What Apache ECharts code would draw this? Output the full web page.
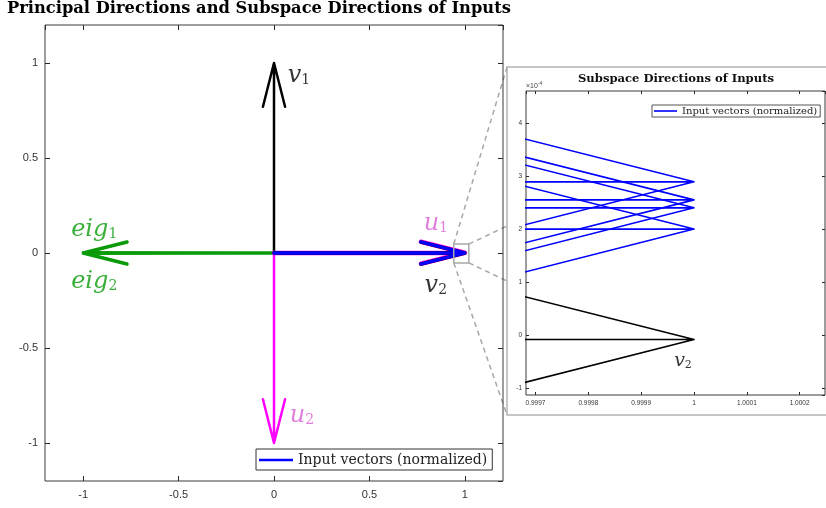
<!DOCTYPE html>
<html><head><meta charset="utf-8">
<script src="https://cdn.jsdelivr.net/npm/echarts@6/dist/echarts.min.js"></script>
<style>html,body{margin:0;padding:0;background:#fff}#c{width:826px;height:508px}</style>
</head><body><div id="c"></div>
<script>
// ---------------- data ----------------
const INPUT = 'Input vectors (normalized)';
const mainRange = [-1.2, 1.2];
const insetXRange = [0.999682, 1.000248];
const insetYRange = [-1.124e-4, 4.60e-4];
const inputTipX = [1, 1, 1, 1];
const inputTipY = [2.89e-4, 2.55e-4, 2.40e-4, 2.00e-4];
const v1Tip = [0, 1];
const v2Tip = [1, -0.08e-4];
const u1Tip = [1, 0.0015];
const u2Tip = [0, -1];
const eig1Tip = [-1, 0.002];
const eig2Tip = [-1, -0.002];
const zoomBoxX = [0.942, 1.021];
const zoomBoxY = [-0.052, 0.047];
const headLength = 0.23, headHalfWidth = 0.058;

// ---------------- helpers ----------------
function arrow(tip) {
  const tx = tip[0], ty = tip[1];
  const L = Math.hypot(tx, ty), ux = tx / L, uy = ty / L, nx = -uy, ny = ux;
  const bx = tx - headLength * L * ux, by = ty - headLength * L * uy;
  const w = headHalfWidth * L;
  return [[0, 0], [tx, ty], [bx + w * nx, by + w * ny], [tx, ty], [bx - w * nx, by - w * ny]];
}
function lineSeries(name, data, color, width, gi, z) {
  return { type: 'line', name: name, data: data, xAxisIndex: gi * 2, yAxisIndex: gi * 2,
    symbol: 'none', silent: true, animation: false, z: z, clip: true,
    lineStyle: { color: color, width: width, cap: 'round', join: 'round' }, itemStyle: { color: color } };
}
const BLUE = '#0000ff', GREEN = '#0a9a0a', MAG = '#ff00ff', PINK = '#d85fd2';
const axisText = { fontFamily: 'Liberation Sans', fontSize: 11, color: '#333' };
const insetText = { fontFamily: 'Liberation Sans', fontSize: 6.5, color: '#333' };

function mkAxis(grid, pos, min, max, main, isX) {
  const bottomOrLeft = pos === 'bottom' || pos === 'left';
  return {
    type: 'value', gridIndex: grid, position: pos, min: min, max: max, scale: true,
    axisLine: { show: false, onZero: false },
    axisTick: { show: true, inside: true, length: main ? 5 : 3, lineStyle: { color: '#262626', width: 1 } },
    splitLine: { show: false },
    axisLabel: {
      show: bottomOrLeft, showMinLabel: false, showMaxLabel: false,
      margin: main ? (isX ? 8 : 7) : (isX ? 5 : 4),
      fontFamily: (main ? axisText : insetText).fontFamily,
      fontSize: (main ? axisText : insetText).fontSize,
      color: '#333',
      formatter: main ? (v => String(parseFloat(v.toFixed(2))))
                      : (isX ? (v => String(parseFloat(v.toFixed(4)))) : (v => String(Math.round(v * 1e4))))
    }
  };
}

// label annotations (positions in data coords of the respective grid)
const mainLabels = [
  { t: 'v', s: '1', at: [0.131, 0.933], c: '#000' },
  { t: 'u', s: '1', at: [0.848, 0.156], c: PINK },
  { t: 'v', s: '2', at: [0.848, -0.170], c: '#000' },
  { t: 'eig', s: '1', at: [-0.942, 0.124], c: GREEN },
  { t: 'eig', s: '2', at: [-0.942, -0.149], c: GREEN },
  { t: 'u', s: '2', at: [0.147, -0.857], c: PINK }
];
const insetLabels = [
  { t: 'v', s: '2', at: [0.9999792, -0.484e-4], c: '#000' }
];
function labelSeries(list, gi, big) {
  return {
    type: 'scatter', xAxisIndex: gi * 2, yAxisIndex: gi * 2, symbolSize: 0, silent: true, animation: false, z: 10,
    data: list.map(l => ({ value: l.at, label: {
      show: true, position: 'inside', formatter: '{m|' + l.t + '}{s|' + l.s + '}',
      rich: {
        m: { fontFamily: 'DejaVu Serif', fontStyle: 'italic', fontSize: big ? 24 : 19, color: l.c, lineHeight: big ? 26 : 20 },
        s: { fontFamily: 'DejaVu Serif', fontSize: big ? 14 : 11, color: l.c, padding: [big ? 10 : 8, 0, 0, 0] }
      } } }))
  };
}

const chart = echarts.init(document.getElementById('c'), null, { renderer: 'canvas' });

const series = [];
// main plot
series.push(lineSeries('eig1', arrow(eig1Tip), GREEN, 3, 0, 2));
series.push(lineSeries('eig2', arrow(eig2Tip), GREEN, 3, 0, 2));
series.push(lineSeries('v1', arrow(v1Tip), '#000', 2.5, 0, 2));
series.push(lineSeries('u2', arrow(u2Tip), MAG, 2.5, 0, 2));
series.push(lineSeries('u1', arrow(u1Tip), MAG, 4.5, 0, 2));
series.push(lineSeries('v2', arrow(v2Tip), '#000', 3.5, 0, 3));
for (let i = 0; i < inputTipY.length; i++) series.push(lineSeries(INPUT, arrow([inputTipX[i], inputTipY[i]]), BLUE, 2.6, 0, 4));
series.push(lineSeries('zoomBox', [[zoomBoxX[0], zoomBoxY[0]], [zoomBoxX[1], zoomBoxY[0]], [zoomBoxX[1], zoomBoxY[1]], [zoomBoxX[0], zoomBoxY[1]], [zoomBoxX[0], zoomBoxY[0]]], '#a8a8a8', 1.5, 0, 5));
series.push(labelSeries(mainLabels, 0, true));
// inset
series.push(lineSeries('v2 ', arrow(v2Tip), '#000', 1.6, 1, 3));
for (let i = 0; i < inputTipY.length; i++) series.push(lineSeries(INPUT, arrow([inputTipX[i], inputTipY[i]]), BLUE, 1.6, 1, 4));
series.push(labelSeries(insetLabels, 1, false));

chart.setOption({
  animation: false,
  backgroundColor: '#fff',
  title: [
    { text: 'Principal Directions and Subspace Directions of Inputs', left: 7, top: 1, padding: 0,
      textStyle: { fontFamily: 'DejaVu Serif', fontWeight: 'bold', fontSize: 16.3, color: '#000' } },
    { text: 'Subspace Directions of Inputs', left: 578, top: 73, padding: 0,
      textStyle: { fontFamily: 'DejaVu Serif', fontWeight: 'bold', fontSize: 11.6, color: '#111' } }
  ],
  grid: [
    { left: 45, top: 25, width: 458, height: 456, show: true, borderColor: '#3a3a3a', borderWidth: 1, backgroundColor: 'transparent', z: 1 },
    { left: 526, top: 91, width: 299, height: 304, show: true, borderColor: '#3a3a3a', borderWidth: 1, backgroundColor: 'transparent', z: 1 }
  ],
  xAxis: [
    mkAxis(0, 'bottom', mainRange[0], mainRange[1], true, true),
    mkAxis(0, 'top', mainRange[0], mainRange[1], true, true),
    mkAxis(1, 'bottom', insetXRange[0], insetXRange[1], false, true),
    mkAxis(1, 'top', insetXRange[0], insetXRange[1], false, true)
  ],
  yAxis: [
    mkAxis(0, 'left', mainRange[0], mainRange[1], true, false),
    mkAxis(0, 'right', mainRange[0], mainRange[1], true, false),
    mkAxis(1, 'left', insetYRange[0], insetYRange[1], false, false),
    mkAxis(1, 'right', insetYRange[0], insetYRange[1], false, false)
  ],
  legend: [
    { data: [{ name: INPUT, icon: 'rect' }], left: 256, top: 449, padding: [4, 5, 3, 3], itemWidth: 34, itemHeight: 2.5, itemGap: 0,
      backgroundColor: '#fff', borderColor: '#333', borderWidth: 1, borderRadius: 0, selectedMode: false,
      itemStyle: { color: BLUE, borderWidth: 0 },
      textStyle: { fontFamily: 'DejaVu Serif', fontSize: 14, color: '#222' }, itemTextGap: 4 },
    { data: [{ name: INPUT, icon: 'rect' }], left: 652, top: 105, padding: [1, 3, 1, 2], itemWidth: 23, itemHeight: 1.6, itemGap: 0,
      backgroundColor: '#fff', borderColor: '#555', borderWidth: 1, borderRadius: 0, selectedMode: false,
      itemStyle: { color: BLUE, borderWidth: 0 },
      textStyle: { fontFamily: 'DejaVu Serif', fontSize: 10, color: '#222' }, itemTextGap: 2 }
  ],
  series: series
});

// zoom connectors and inset panel
const tl = chart.convertToPixel({ xAxisIndex: 0, yAxisIndex: 0 }, [zoomBoxX[0], zoomBoxY[1]]);
const bl = chart.convertToPixel({ xAxisIndex: 0, yAxisIndex: 0 }, [zoomBoxX[0], zoomBoxY[0]]);
const tr = chart.convertToPixel({ xAxisIndex: 0, yAxisIndex: 0 }, [zoomBoxX[1], zoomBoxY[1]]);
const br = chart.convertToPixel({ xAxisIndex: 0, yAxisIndex: 0 }, [zoomBoxX[1], zoomBoxY[0]]);
const panel = { x: 507, y: 67, w: 330, h: 348 };
const dash = { stroke: '#a8a8a8', lineWidth: 1.5, lineDash: [5, 4] };
chart.setOption({
  graphic: [
    { type: 'rect', z: -10, shape: { x: panel.x, y: panel.y, width: panel.w, height: panel.h }, style: { fill: '#fff', stroke: '#b4b4b4', lineWidth: 1.5 } },
    { type: 'line', z: -5, shape: { x1: tl[0], y1: tl[1], x2: panel.x, y2: panel.y }, style: dash },
    { type: 'line', z: -5, shape: { x1: bl[0], y1: bl[1], x2: panel.x, y2: panel.y + panel.h }, style: dash },
    { type: 'line', z: -5, shape: { x1: tr[0], y1: tr[1], x2: panel.x, y2: 226 }, style: dash },
    { type: 'line', z: -5, shape: { x1: br[0], y1: br[1], x2: panel.x, y2: 281 }, style: dash },
    { type: 'text', z: 20, x: 526, y: 81, style: { text: '×10{sup|-4}', fontFamily: 'Liberation Sans', fontSize: 7, fill: '#444',
        rich: { sup: { fontSize: 5, fill: '#444', padding: [0, 0, 5, 0] } } } }
  ]
});
</script></body></html>
